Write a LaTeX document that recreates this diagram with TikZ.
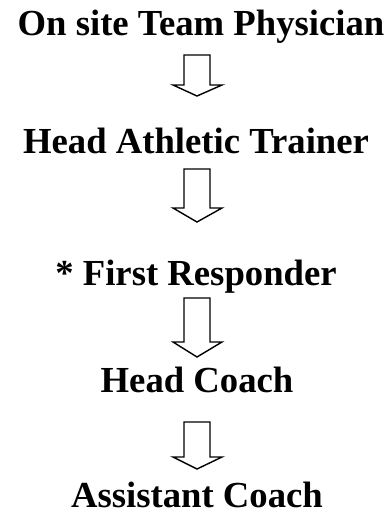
\documentclass[tikz,border=0pt]{standalone}
\usepackage{fontspec}
\setmainfont{Liberation Serif}
\begin{document}
\begin{tikzpicture}[x=1pt,y=-1pt,
  lbl/.style={anchor=base,inner sep=0pt,font=\fontsize{36.7}{40}\selectfont\bfseries},
  blockarrow/.style={draw=black,line width=1.4pt,line join=miter,fill=white}]
\useasboundingbox (0,0) rectangle (389,512);
\node[lbl] (t1) at (201,35) {On site Team Physician};
\node[lbl] (t2) at (196,153) {Head Athletic Trainer};
\node[lbl] (t3) at (196,285) {* First Responder};
\node[lbl] (t4) at (197,392) {Head Coach};
\node[lbl] (t5) at (197,507) {Assistant Coach};
\foreach \top/\base/\tip in {55/85/96, 169/208/222, 298/342/357, 422/457/469}{
  \draw[blockarrow] (184,\top) -- (210,\top) -- (210,\base) -- (222,\base) -- (197,\tip)
    -- (173,\base) -- (184,\base) -- cycle;
}
\end{tikzpicture}
\end{document}
